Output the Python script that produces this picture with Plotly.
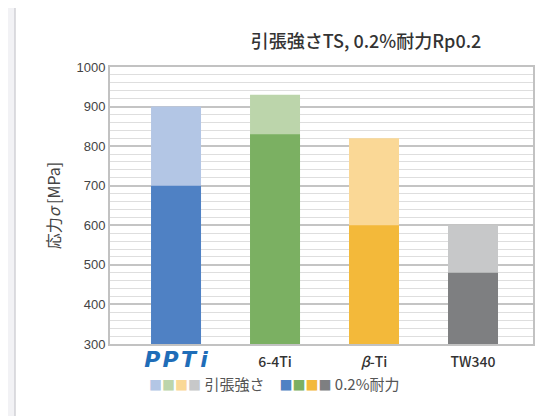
import plotly.graph_objects as go

categories = ["PPTi", "6-4Ti", "β-Ti", "TW340"]
tick_labels = [
    "<span style='color:#1f6db8;font-size:22px;font-family:DejaVu Sans'><b><i>P\u200aP\u200aT\u2009i</i></b></span>",
    "6-4Ti", "<i>β</i>-Ti", "TW340",
]
tensile = [900, 930, 820, 600]
proof = [700, 830, 600, 480]
tensile_colors = ["#b3c6e5", "#bcd5ab", "#fad896", "#c7c8c9"]
proof_colors = ["#4f81c4", "#7bb062", "#f3b93a", "#7e7f81"]

FONT = "Noto Sans CJK JP"
x_idx = list(range(len(categories)))

fig = go.Figure()
fig.add_trace(go.Bar(x=x_idx, y=tensile, marker=dict(color=tensile_colors, line=dict(width=0)),
                     width=0.505, name="引張強さ"))
fig.add_trace(go.Bar(x=x_idx, y=proof, marker=dict(color=proof_colors, line=dict(width=0)),
                     width=0.505, name="0.2%耐力"))

# card background
fig.add_shape(type="rect", xref="paper", yref="paper", x0=-0.2246, x1=1.1, y0=-0.4, y1=1.2238,
              fillcolor="white", line=dict(color="#d2d2d6", width=1.5), layer="below")

legend_text = (
    "<span style='font-size:13px'>"
    + "".join(f"<span style='color:{c}'>■</span>" for c in tensile_colors)
    + "</span> 引張強さ　"
    + "<span style='font-size:13px'>"
    + "".join(f"<span style='color:{c}'>■</span>" for c in proof_colors)
    + "</span> 0.2%耐力"
)
fig.add_annotation(xref="paper", yref="paper", x=0.088, y=-0.142, xanchor="left", yanchor="middle",
                   text=legend_text, showarrow=False, font=dict(family=FONT, size=15, color="#555555"))

fig.update_layout(
    width=550, height=416,
    margin=dict(l=102, r=25, t=59, b=80, autoexpand=False),
    paper_bgcolor="#f2f2f5", plot_bgcolor="white",
    barmode="overlay", showlegend=False,
    font=dict(family=FONT, color="#444444"),
    title=dict(text="引張強さTS, 0.2%耐力Rp0.2", x=0.651, xanchor="center",
               y=0.918, yanchor="middle", font=dict(family=FONT, size=18, color="#333333", weight=500)),
    xaxis=dict(range=[-0.667, 3.606], tickmode="array", tickvals=x_idx, ticktext=tick_labels,
               showgrid=False, showline=True, mirror=True, linecolor="#c2c2c2", linewidth=2,
               automargin=False,
               tickfont=dict(family=FONT, size=14, color="#333333", weight=500), ticks="",
               ticklabelstandoff=4),
    yaxis=dict(range=[300, 1000], dtick=100, showgrid=True, gridcolor="#c4c4c4", gridwidth=1.5,
               minor=dict(dtick=20, showgrid=True, gridcolor="#dedede", gridwidth=1),
               showline=True, mirror=True, linecolor="#c2c2c2", linewidth=2, zeroline=False,
               automargin=False,
               tickfont=dict(family="Liberation Sans", size=13, color="#444444"), ticks="",
               title=dict(text="応力<i>σ</i> [MPa]", standoff=12,
                          font=dict(family=FONT, size=16, color="#444444"))),
)

fig.write_html("out.html")
